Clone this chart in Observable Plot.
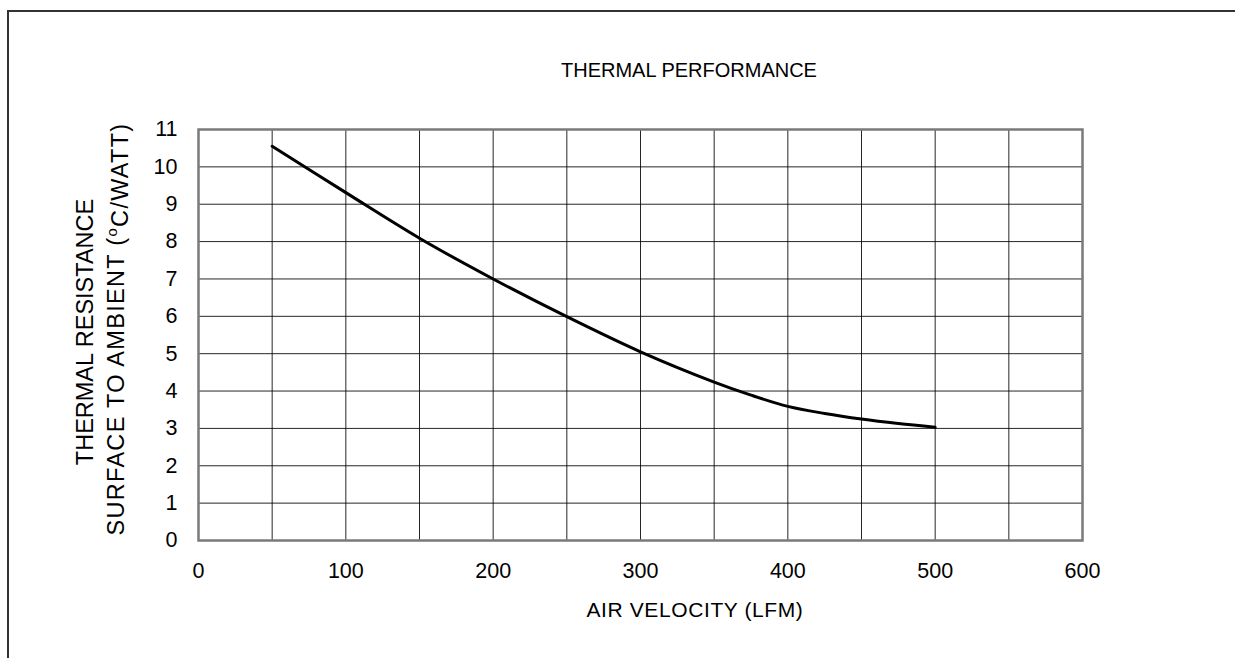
<!DOCTYPE html>
<html>
<head>
<meta charset="utf-8">
<script src="https://cdn.jsdelivr.net/npm/d3@7"></script>
<script src="https://cdn.jsdelivr.net/npm/@observablehq/plot@0.6"></script>
<style>
  html, body { margin: 0; padding: 0; background: #fff; }
  #chart svg { display: block; }
</style>
</head>
<body>
<div id="chart"></div>
<script>
const airVelocity = [50, 100, 150, 200, 250, 300, 350, 375, 400, 425, 450, 475, 500];
const thermalResistance = [10.55, 9.31, 8.09, 7.0, 5.99, 5.05, 4.24, 3.89, 3.59, 3.40, 3.25, 3.13, 3.03];
const xTicks = [0, 100, 200, 300, 400, 500, 600];
const xGrid = [50, 100, 150, 200, 250, 300, 350, 400, 450, 500, 550];
const yTicks = [0, 1, 2, 3, 4, 5, 6, 7, 8, 9, 10, 11];
const yGrid = [1, 2, 3, 4, 5, 6, 7, 8, 9, 10];
const titleText = "THERMAL PERFORMANCE";
const xLabel = "AIR VELOCITY (LFM)";
const yLabel1 = "THERMAL RESISTANCE";
const yLabel2a = "SURFACE TO AMBIENT (";
const yLabel2sup = "o";
const yLabel2b = "C/WATT)";

const data = airVelocity.map((v, i) => ({x: v, y: thermalResistance[i]}));

const W = 1235, H = 658;
const ff = "'Liberation Sans', Arial, sans-serif";
const chart = Plot.plot({
  width: W,
  height: H,
  marginLeft: 198,
  marginRight: 153,
  marginTop: 129,
  marginBottom: 118,
  style: {fontFamily: ff, fontSize: "21.5px", color: "#000", background: "#fff"},
  x: {domain: [0, 600], ticks: xTicks},
  y: {domain: [0, 11], ticks: yTicks},
  marks: [
    Plot.gridX(xGrid, {stroke: "#000", strokeOpacity: 0.85, strokeWidth: 1}),
    Plot.gridY(yGrid, {stroke: "#000", strokeOpacity: 0.85, strokeWidth: 1}),
    Plot.frame({stroke: "#7a7a7a", strokeWidth: 2.5}),
    Plot.axisX(xTicks, {tickSize: 0, tickPadding: 22, label: null, fontSize: 21.5}),
    Plot.axisY(yTicks, {tickSize: 0, tickPadding: 21, label: null, fontSize: 21.5}),
    Plot.line(data, {x: "x", y: "y", curve: "catmull-rom", stroke: "#000", strokeWidth: 3})
  ]
});
document.getElementById("chart").appendChild(chart);

const svg = d3.select(chart);
// outer frame (top and left edges)
svg.append("path")
  .attr("d", `M8,${H} L8,11 L${W},11`)
  .attr("fill", "none").attr("stroke", "#333").attr("stroke-width", 2);

svg.append("text")
  .attr("x", 689).attr("y", 77)
  .attr("text-anchor", "middle")
  .style("font-family", ff).style("font-size", "20px").attr("fill", "#000")
  .text(titleText);

svg.append("text")
  .attr("x", 695).attr("y", 617)
  .attr("text-anchor", "middle")
  .style("font-family", ff).style("font-size", "21px").style("letter-spacing", "0.6px").attr("fill", "#000")
  .text(xLabel);

svg.append("text")
  .attr("transform", "translate(92.5,332) rotate(-90)")
  .attr("text-anchor", "middle")
  .style("font-family", ff).style("font-size", "23.5px").attr("fill", "#000")
  .text(yLabel1);

const t2 = svg.append("text")
  .attr("transform", "translate(124,329) rotate(-90)")
  .attr("text-anchor", "middle")
  .style("font-family", ff).style("font-size", "23.5px").style("letter-spacing", "1.3px").attr("fill", "#000");
t2.append("tspan").text(yLabel2a);
t2.append("tspan").attr("dy", "-0.45em").style("font-size", "15px").text(yLabel2sup);
t2.append("tspan").attr("dy", "0.45em").text(yLabel2b);
</script>
</body>
</html>
